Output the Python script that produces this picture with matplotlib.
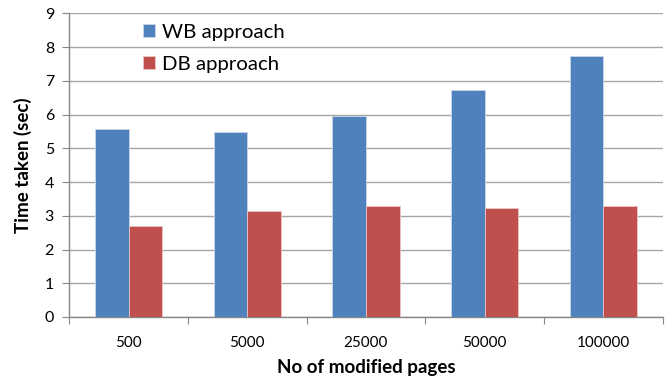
import matplotlib
matplotlib.use("Agg")
import matplotlib.pyplot as plt
import numpy as np

plt.rcParams['font.family'] = ['Lato', 'DejaVu Sans']

categories = ["500", "5000", "25000", "50000", "100000"]
wb_times = [5.58, 5.48, 5.96, 6.73, 7.73]
db_times = [2.69, 3.14, 3.29, 3.24, 3.28]
series_names = ["WB approach", "DB approach"]
colors = ["#4F81BD", "#C0504D"]

fig = plt.figure(figsize=(6.7, 3.84), dpi=100)
ax = fig.add_axes([0.1034, 0.1745, 0.8856, 0.7908])

x = np.arange(len(categories))
w = 0.284
ax.bar(x - w / 2, wb_times, w, color=colors[0], edgecolor="#C9D7EA", linewidth=0.6,
       label=series_names[0], zorder=3)
ax.bar(x + w / 2, db_times, w, color=colors[1], edgecolor="#EBC5C4", linewidth=0.6,
       label=series_names[1], zorder=3)

ax.set_xlim(-0.5, len(categories) - 0.5)
ax.set_ylim(0, 9)
ax.set_yticks(range(0, 10))
ax.set_xticks(np.arange(-0.5, len(categories), 1.0), minor=False)
ax.set_xticklabels([])
ax.set_xticks(x, minor=True)
ax.set_xticklabels(categories, minor=True)
ax.tick_params(axis="x", which="major", length=5, color="#868686", direction="out")
ax.tick_params(axis="x", which="minor", length=0, pad=14, labelsize=11)
ax.tick_params(axis="y", length=5, color="#868686", direction="out", labelsize=11.5, pad=6)

ax.yaxis.grid(True, color="#A6A6A6", linewidth=1.0, zorder=0)
for s in ["top", "right"]:
    ax.spines[s].set_visible(False)
for s in ["left", "bottom"]:
    ax.spines[s].set_color("#868686")
    ax.spines[s].set_linewidth(1.0)

ax.set_ylabel("Time taken (sec)", fontsize=13.5, fontweight="bold", labelpad=9)
ax.set_xlabel("No of modified pages", fontsize=13.5, fontweight="bold", labelpad=6)

ax.legend(loc="upper left", bbox_to_anchor=(0.093, 1.027), frameon=False,
          fontsize=14.7, handlelength=0.6, handleheight=0.6, handletextpad=0.34,
          labelspacing=0.74)

fig.savefig("out.png", dpi=100)
